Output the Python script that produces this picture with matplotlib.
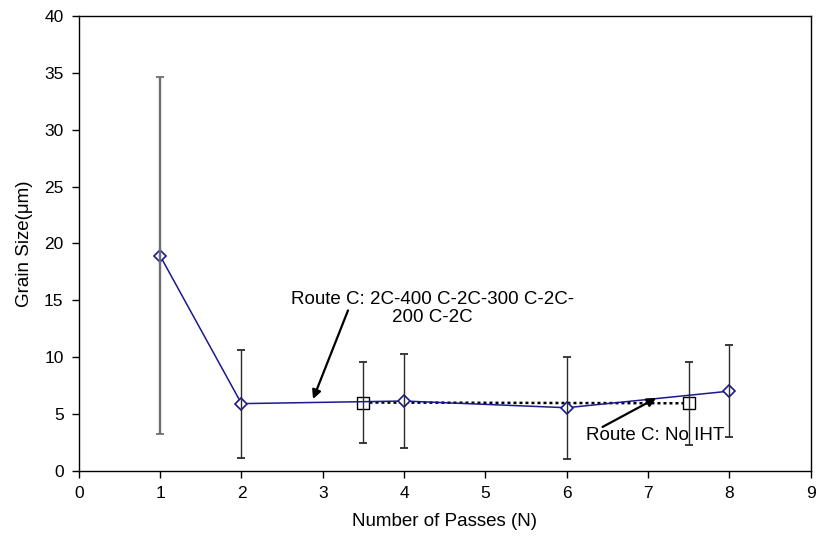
import matplotlib
matplotlib.use("Agg")
import matplotlib.pyplot as plt
import numpy as np

plt.rcParams['font.family'] = ['Liberation Sans', 'DejaVu Sans']

# Route C with inter-pass heat treatment: 2C-400 C-2C-300 C-2C-200 C-2C
passes_iht = [1, 2, 4, 6, 8]
grain_iht = [18.9, 5.9, 6.13, 5.54, 7.0]
grain_iht_hi = [34.6, 10.6, 10.3, 10.03, 11.08]
grain_iht_lo = [3.2, 1.1, 1.97, 1.03, 2.93]

# Route C without inter-pass heat treatment
passes_noiht = [3.5, 7.5]
grain_noiht = [6.0, 5.93]
grain_noiht_hi = [9.6, 9.6]
grain_noiht_lo = [2.43, 2.26]

x_ticks = list(range(0, 10))
y_ticks = list(range(0, 45, 5))

fig = plt.figure(figsize=(8.17, 5.46), dpi=100)
ax = fig.add_axes([0.0965, 0.1379, 0.8958, 0.8328])

# dotted No-IHT series
ax.plot(passes_noiht, grain_noiht, color='black', linestyle=(0, (1.2, 1.2)),
        linewidth=1.8, marker='s', markersize=9, markerfacecolor='white',
        markeredgecolor='black', markeredgewidth=1.0, zorder=3)

# main IHT series
ax.plot(passes_iht, grain_iht, color='#1a1a8c', linewidth=1.1, marker='D',
        markersize=6.5, markerfacecolor='white', markeredgecolor='#1a1a8c',
        markeredgewidth=1.2, zorder=4)

# error bars
def draw_err(x, y, hi, lo, color, lw):
    y = np.asarray(y); hi = np.asarray(hi); lo = np.asarray(lo)
    ax.errorbar(x, y, yerr=[y - lo, hi - y], fmt='none', ecolor=color,
                elinewidth=lw, capsize=3.2, capthick=1.3, zorder=5)

draw_err(passes_iht[:1], grain_iht[:1], grain_iht_hi[:1], grain_iht_lo[:1], '#6e6e6e', 1.7)
draw_err(passes_iht[1:], grain_iht[1:], grain_iht_hi[1:], grain_iht_lo[1:], '#2b2b2b', 1.0)
draw_err(passes_noiht, grain_noiht, grain_noiht_hi, grain_noiht_lo, '#2b2b2b', 1.0)

ax.set_xlim(0, 9)
ax.set_ylim(0, 40)
ax.set_xticks(x_ticks)
ax.set_yticks(y_ticks)
ax.tick_params(direction='out', length=5, width=1, labelsize=12.5, colors='black', pad=6)
for s in ax.spines.values():
    s.set_linewidth(1.0)
    s.set_color('black')

ax.set_xlabel('Number of Passes (N)', fontsize=13.5, labelpad=9)
ax.set_ylabel('Grain Size(μm)', fontsize=13.5, labelpad=8)

# annotations
ax.text(4.35, 14.27, 'Route C: 2C-400 C-2C-300 C-2C-\n200 C-2C', ha='center', va='center',
        fontsize=13.5, linespacing=1.15, zorder=6)
ax.annotate('', xy=(2.88, 6.3), xytext=(3.31, 14.1),
            arrowprops=dict(arrowstyle='-|>', color='black', lw=1.6,
                            mutation_scale=13, shrinkA=0, shrinkB=0), zorder=6)
ax.text(7.09, 3.1, 'Route C: No IHT', ha='center', va='center', fontsize=13.5, zorder=6)
ax.annotate('', xy=(7.1, 6.39), xytext=(6.44, 3.85),
            arrowprops=dict(arrowstyle='-|>', color='black', lw=1.6,
                            mutation_scale=13, shrinkA=0, shrinkB=0), zorder=6)

fig.savefig('out.png', dpi=100)
